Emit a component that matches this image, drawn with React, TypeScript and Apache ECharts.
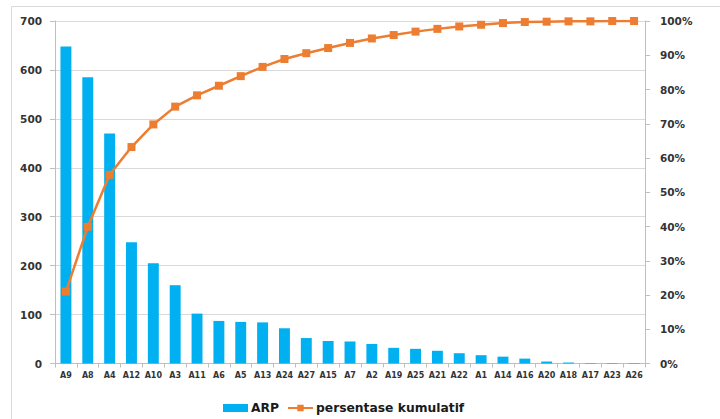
import React, { useEffect, useRef } from "react";
import * as echarts from "echarts";

const categories = ["A9","A8","A4","A12","A10","A3","A11","A6","A5","A13","A24","A27","A15","A7","A2","A19","A25","A21","A22","A1","A14","A16","A20","A18","A17","A23","A26"];
const arpValues = [648,585,470,248,205,160,102,87,85,84,72,52,46,45,40,32,30,26,21,17,14,10,4,2,1,1,1];
const cumulativePercent = [21.0,39.9,55.1,63.2,69.8,75.0,78.3,81.1,83.9,86.6,88.9,90.6,92.1,93.6,94.9,95.9,96.9,97.7,98.4,98.9,99.4,99.7,99.8,99.9,99.9,100.0,100.0];
const leftTicks = { min: 0, max: 700, interval: 100 };
const rightTicks = { min: 0, max: 100, interval: 10 };

const FONT = "DejaVu Sans";

export default function App() {
  const ref = useRef<HTMLDivElement>(null);
  useEffect(() => {
    document.body.style.margin = "0";
    const chart = echarts.init(ref.current!, null, { renderer: "svg" });
    chart.setOption({
      animation: false,
      backgroundColor: "#ffffff",
      graphic: [
        {
          type: "rect",
          shape: { x: 11.5, y: 6.5, width: 720, height: 430 },
          style: { fill: "none", stroke: "#d9d9d9", lineWidth: 1 },
          silent: true,
          z: -10,
        },
      ],
      grid: { left: 55, right: 75, top: 21, bottom: 55.5, containLabel: false },
      legend: {
        left: 218,
        top: 397,
        itemGap: 8,
        itemWidth: 25,
        itemHeight: 8,
        textStyle: { fontFamily: FONT, fontWeight: "bold", fontSize: 12.3, color: "#1a1a1a", padding: [0, 0, 0, -2] },
        data: [
          { name: "ARP", icon: "rect" },
          { name: "persentase kumulatif" },
        ],
      },
      xAxis: {
        type: "category",
        data: categories,
        axisLine: { lineStyle: { color: "#bfbfbf" } },
        axisTick: { show: true, alignWithLabel: false, length: 4, lineStyle: { color: "#bfbfbf" } },
        axisLabel: { interval: 0, margin: 8, fontFamily: FONT, fontWeight: "bold", fontSize: 8, color: "#333" },
      },
      yAxis: [
        {
          type: "value",
          min: leftTicks.min,
          max: leftTicks.max,
          interval: leftTicks.interval,
          axisLine: { show: true, lineStyle: { color: "#bfbfbf" } },
          axisTick: { show: true, length: 5, lineStyle: { color: "#bfbfbf" } },
          axisLabel: { margin: 13, fontFamily: FONT, fontWeight: "bold", fontSize: 10.5, color: "#333" },
          splitLine: { show: true, lineStyle: { color: "#d9d9d9", width: 1 } },
        },
        {
          type: "value",
          min: rightTicks.min,
          max: rightTicks.max,
          interval: rightTicks.interval,
          position: "right",
          axisLine: { show: true, lineStyle: { color: "#bfbfbf" } },
          axisTick: { show: true, length: 5, lineStyle: { color: "#bfbfbf" } },
          axisLabel: { margin: 15, fontFamily: FONT, fontWeight: "bold", fontSize: 10.5, color: "#333", formatter: "{value}%" },
          splitLine: { show: false },
        },
      ],
      series: [
        {
          name: "ARP",
          type: "bar",
          data: arpValues,
          barWidth: "50%",
          itemStyle: { color: "#00b0f0" },
          yAxisIndex: 0,
        },
        {
          name: "persentase kumulatif",
          type: "line",
          data: cumulativePercent,
          yAxisIndex: 1,
          symbol: "rect",
          symbolSize: 8,
          lineStyle: { color: "#ed7d31", width: 2.5 },
          itemStyle: { color: "#ed7d31" },
        },
      ],
    });
    return () => chart.dispose();
  }, []);
  return <div ref={ref} style={{ width: 720, height: 419 }} />;
}
